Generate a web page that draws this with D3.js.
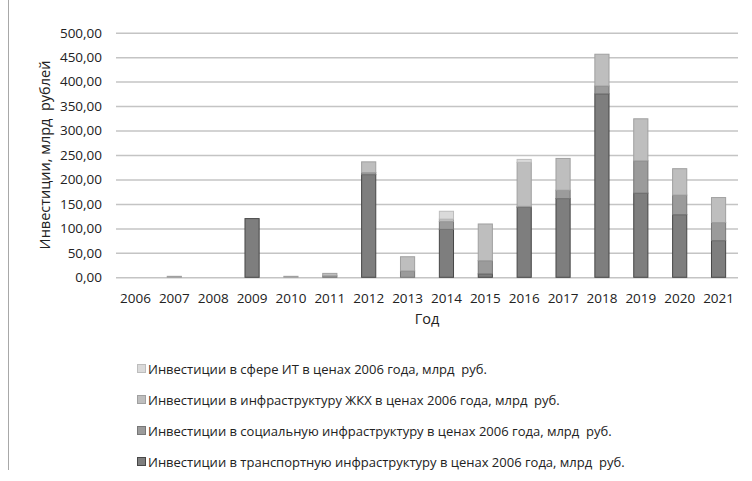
<!DOCTYPE html>
<html>
<head>
<meta charset="utf-8">
<script src="https://cdn.jsdelivr.net/npm/d3@7"></script>
<style>
  body { margin: 0; background: #fff; }
  .chart text { font-family: "Open Sans", sans-serif; fill: #222; white-space: pre; }
</style>
</head>
<body>
<div class="chart"></div>
<script>
// years and values, billions of rubles in 2006 prices
const years = ["2006", "2007", "2008", "2009", "2010", "2011", "2012", "2013",
    "2014", "2015", "2016", "2017", "2018", "2019", "2020", "2021"];
const transport = [0, 0, 0, 120, 0, 0, 210, 0, 98, 7, 143, 161, 375, 172, 128, 75];
const social = [0, 0, 0, 0, 0, 3, 4, 13, 16, 27, 2, 17, 16, 66, 40, 37];
const housing = [0, 2, 0, 0, 2, 5, 22, 29, 5, 75, 90, 65, 65, 86, 54, 51];
const itSphere = [0, 0, 0, 0, 0, 0, 0, 0, 16, 0, 6, 0, 0, 0, 0, 0];
const yTicks = [0, 50, 100, 150, 200, 250, 300, 350, 400, 450, 500];

const seriesKeys = ["transport", "social", "housing", "it"];
const seriesNames = {
    it: "Инвестиции в сфере ИТ в ценах 2006 года, млрд  руб.",
    housing: "Инвестиции в инфраструктуру ЖКХ в ценах 2006 года, млрд  руб.",
    social: "Инвестиции в социальную инфраструктуру в ценах 2006 года, млрд  руб.",
    transport: "Инвестиции в транспортную инфраструктуру в ценах 2006 года, млрд  руб."
};
const fills = { transport: "#7e7e7e", social: "#9b9b9b", housing: "#bebebe", it: "#dadada" };
const strokes = { transport: "#474747", social: "#777777", housing: "#a0a0a0", it: "#bdbdbd" };

const w = 752, h = 481;
const plotLeft = 116, plotRight = 738, plotTop = 32.7, plotBottom = 277.3;

const table = years.map((y, i) => ({
    year: y, transport: transport[i], social: social[i], housing: housing[i], it: itSphere[i]
}));
const stacked = d3.stack().keys(seriesKeys)(table);

const svg = d3.select('.chart')
    .append('svg')
    .attr('width', w)
    .attr('height', h);

// outer frame edge
svg.append('line')
    .attr('x1', 8.5).attr('x2', 8.5)
    .attr('y1', 0).attr('y2', 470)
    .attr('stroke', '#a8a8a8');

const xScale = d3.scaleBand()
    .domain(years)
    .range([plotLeft, plotRight])
    .paddingInner(0.61)
    .paddingOuter(0.305);

const yScale = d3.scaleLinear()
    .domain([0, 500])
    .range([plotBottom, plotTop]);

// y axis with grid
const yAxis = svg.append('g')
    .attr('transform', `translate(${plotLeft}, 0)`)
    .call(d3.axisLeft(yScale)
        .tickValues(yTicks)
        .tickSize(-(plotRight - plotLeft))
        .tickPadding(14)
        .tickFormat(d => d3.format(".2f")(d).replace(".", ",")));
yAxis.select('.domain').remove();
yAxis.selectAll('line').attr('stroke', '#c4c4c4').attr('stroke-width', 1.5);
yAxis.selectAll('text').style('font-size', '13.5px');

// bars
svg.append('g')
    .selectAll('g')
    .data(stacked)
    .enter().append('g')
    .attr('fill', d => fills[d.key])
    .attr('stroke', d => strokes[d.key])
    .selectAll('rect')
    .data(d => d.filter(p => p[1] - p[0] > 0))
    .enter().append('rect')
    .attr('x', d => xScale(d.data.year) + 0.5)
    .attr('width', xScale.bandwidth() - 1)
    .attr('y', d => yScale(d[1]))
    .attr('height', d => yScale(d[0]) - yScale(d[1]))
    .attr('stroke-width', 1);

// x axis
const xAxis = svg.append('g')
    .attr('transform', `translate(0, ${plotBottom})`)
    .call(d3.axisBottom(xScale).tickSize(0).tickPadding(16));
xAxis.select('.domain').remove();
xAxis.selectAll('text').style('font-size', '13.5px');

// axis titles
svg.append('text')
    .attr('x', (plotLeft + plotRight) / 2)
    .attr('y', 324)
    .attr('text-anchor', 'middle')
    .style('font-size', '14.5px')
    .text('Год');

svg.append('text')
    .attr('transform', 'rotate(-90)')
    .attr('x', -155)
    .attr('y', 50)
    .attr('text-anchor', 'middle')
    .style('font-size', '14.5px')
    .text('Инвестиции, млрд  рублей');

// legend
const legendKeys = ["it", "housing", "social", "transport"];
const legend = svg.append('g')
    .selectAll('g')
    .data(legendKeys)
    .enter().append('g')
    .attr('transform', (d, i) => `translate(137, ${369 + i * 31})`);

legend.append('rect')
    .attr('x', 0.5).attr('y', -4.5)
    .attr('width', 8).attr('height', 8)
    .attr('fill', d => fills[d])
    .attr('stroke', d => strokes[d]);

legend.append('text')
    .attr('x', 11)
    .attr('y', 0)
    .attr('dy', '0.35em')
    .style('font-size', '13px')
    .text(d => seriesNames[d]);
</script>
</body>
</html>
